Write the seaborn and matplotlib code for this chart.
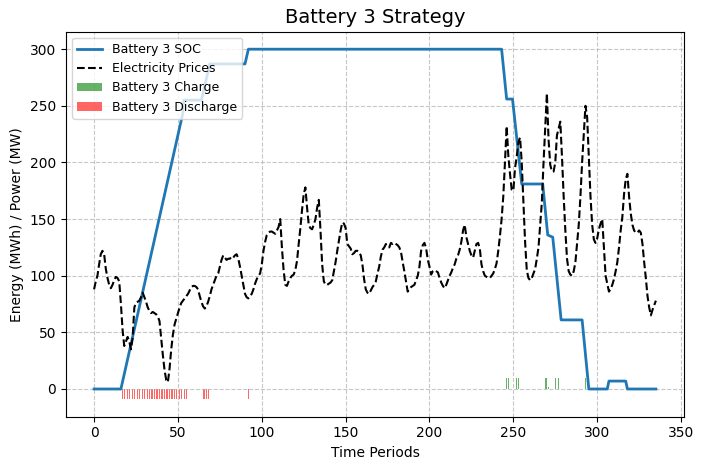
import numpy as np
import pandas as pd
import matplotlib
matplotlib.use('Agg')
import matplotlib.pyplot as plt
import seaborn as sns

# 배터리 SOC (꺾이는 지점만)
soc_t = [0, 16, 53, 53.5, 64, 69, 90, 92, 243, 246, 249.5, 255, 267.5, 270.5, 273.5,
         278.5, 291, 295, 306, 307, 317, 318, 335]
soc_v = [0, 0, 244, 255, 255, 287, 287, 300, 300, 256, 256, 181, 181, 136, 134,
         61, 61, 0, 0, 7, 7, 0, 0]

# 전기 가격 (t = 0..335)
prices = [
    88, 95, 100, 110, 119, 122, 119, 106, 98, 92,
    89, 92, 96, 99, 98, 95, 75, 52, 38, 42,
    46, 42, 35, 45, 72, 76, 77, 78, 81, 85,
    81, 77, 72, 69, 67, 68, 67, 66, 64, 60,
    45, 30, 17, 8, 6, 18, 35, 48, 57, 62,
    67, 72, 76, 78, 80, 82, 84, 87, 90, 91,
    91, 90, 88, 82, 77, 73, 71, 73, 77, 82,
    88, 92, 96, 100, 102, 108, 114, 118, 116, 114,
    115, 115, 117, 116, 118, 119, 115, 108, 100, 92,
    84, 81, 80, 82, 84, 88, 93, 97, 100, 102,
    110, 122, 130, 136, 138, 139, 139, 138, 137, 140,
    143, 150, 125, 105, 92, 91, 95, 98, 100, 101,
    105, 113, 128, 142, 158, 172, 178, 160, 145, 142,
    141, 145, 150, 160, 167, 140, 110, 95, 92, 92,
    93, 94, 96, 104, 112, 122, 131, 140, 147, 146,
    142, 128, 126, 124, 119, 120, 122, 122, 121, 118,
    110, 97, 88, 85, 84, 87, 90, 92, 95, 102,
    108, 117, 123, 125, 128, 126, 125, 129, 128, 129,
    128, 127, 125, 121, 112, 104, 95, 86, 88, 90,
    91, 92, 96, 100, 108, 122, 127, 129, 124, 114,
    108, 101, 104, 105, 104, 103, 98, 94, 91, 89,
    92, 96, 100, 103, 107, 110, 115, 118, 123, 130,
    140, 145, 134, 128, 122, 118, 116, 122, 128, 129,
    124, 110, 104, 100, 99, 98, 98, 100, 102, 106,
    111, 122, 135, 150, 170, 200, 232, 206, 190, 176,
    175, 195, 205, 218, 222, 200, 165, 130, 105, 98,
    96, 98, 102, 106, 115, 125, 145, 165, 200, 231,
    261, 220, 198, 192, 192, 200, 224, 230, 236, 205,
    170, 140, 115, 104, 101, 100, 104, 112, 128, 145,
    170, 200, 225, 250, 240, 205, 170, 145, 132, 129,
    133, 141, 146, 150, 125, 100, 93, 86, 88, 92,
    97, 104, 112, 125, 140, 152, 172, 185, 190, 170,
    155, 145, 140, 138, 138, 140, 138, 128, 112, 98,
    82, 72, 65, 70, 74, 78,
]

# 충전 / 방전 막대
charge_t = [246, 247, 252, 253, 254, 269, 270, 271, 275, 276, 277, 293]
charge_mw = [9.5, 9.5, 9.5, 9.5, 9.5, 9.5, 9.5, 2, 9.5, 9.5, 9.5, 9.5]
discharge_t = list(range(17, 56)) + [65, 66, 67, 68, 92]
discharge_mw = [9] * len(discharge_t)

price_df = pd.DataFrame({'t': np.arange(len(prices)), 'price': prices})
soc_df = pd.DataFrame({'t': soc_t, 'soc': soc_v})

fig, ax = plt.subplots(figsize=(7.05, 4.71), dpi=100)

sns.lineplot(data=soc_df, x='t', y='soc', ax=ax, color='#1f77b4', linewidth=2,
             label='Battery 3 SOC')
sns.lineplot(data=price_df, x='t', y='price', ax=ax, color='black', linewidth=1.5,
             linestyle='--', label='Electricity Prices')
ax.bar(charge_t, charge_mw, width=0.5, color='green', alpha=0.6, label='Battery 3 Charge')
ax.bar(discharge_t, [-v for v in discharge_mw], width=0.5, color='red', alpha=0.6,
       label='Battery 3 Discharge')

ax.set_title('Battery 3 Strategy', fontsize=14)
ax.set_xlabel('Time Periods')
ax.set_ylabel('Energy (MWh) / Power (MW)')
ax.grid(True, linestyle='--', alpha=0.7)
ax.legend(loc='upper left', fontsize=9)

# 원본과 같은 축 위치
fig.subplots_adjust(left=0.0936, right=0.9702, top=0.9327, bottom=0.1153)
plt.savefig('out.png', dpi=100)
